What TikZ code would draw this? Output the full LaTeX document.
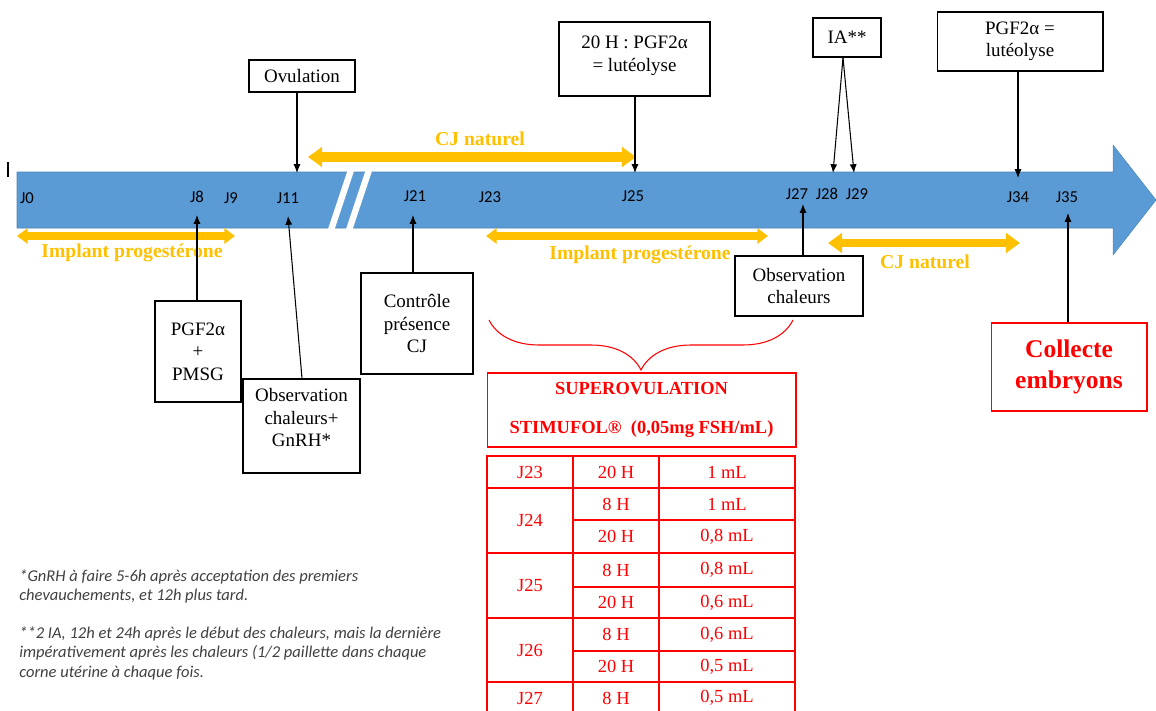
\documentclass[tikz,border=0pt]{standalone}
\usepackage{fontspec}
\setmainfont{Liberation Serif}
\newfontfamily\calib{Carlito}
\usepackage{xcolor}
\usepackage{tikz}
\usetikzlibrary{arrows.meta,positioning,calc,decorations.pathreplacing}
\definecolor{barblue}{HTML}{5B9BD5}
\definecolor{cjyellow}{HTML}{FFC000}
\definecolor{notegray}{HTML}{404040}

\begin{document}
\begin{tikzpicture}[
    x=0.02cm, y=-0.02cm,
    box/.style={rectangle, draw, line width=0.6pt, align=center, inner sep=1pt, font=\fontsize{10.8}{12.8}\selectfont},
    redbox/.style={box, draw=red, text=red},
    day/.style={font=\calib\fontsize{9.5}{11}\selectfont, inner sep=0pt},
    phase/.style={font=\fontsize{11.2}{12}\selectfont\bfseries, text=cjyellow, inner sep=0pt},
    cell/.style={font=\fontsize{10.5}{12}\selectfont, text=red, inner sep=0pt},
    note/.style={font=\calib\itshape\fontsize{9.4}{11.3}\selectfont, text=notegray, align=left, inner sep=0pt},
    tick/.style={-{Latex[length=5pt,width=4pt]}, line width=0.6pt},
    cjarrow/.style={{Triangle[length=8pt,width=11pt]}-{Triangle[length=8pt,width=11pt]}, line width=5.5pt, draw=cjyellow},
    imparrow/.style={{Triangle[length=6pt,width=8.5pt]}-{Triangle[length=6pt,width=8.5pt]}, line width=4pt, draw=cjyellow}
]
\useasboundingbox (0,0) rectangle (1156,710);

% Timeline
\filldraw[fill=barblue, draw=barblue!85!black, line width=0.3pt]
    (17,172) -- (1113,172) -- (1113,145) -- (1156,200) -- (1113,255) -- (1113,228) -- (17,228) -- cycle;
\draw[white, line width=3.6pt] (351,170) -- (331,230);
\draw[white, line width=3.6pt] (369,170) -- (349,230);
\draw[line width=0.6pt] (8,162) -- (8,177);

% Days
\node[day] (j0) at (27,198) {J0};
\node[day] (j8) at (197,197) {J8};
\node[day] (j9) at (231,198) {J9};
\node[day] (j11) at (288,198) {J11};
\node[day] (j21) at (415,196) {J21};
\node[day] (j23) at (490,197) {J23};
\node[day] (j25) at (633,196) {J25};
\node[day] (j27) at (797,194) {J27};
\node[day] (j28) at (827,194) {J28};
\node[day] (j29) at (857,194) {J29};
\node[day] (j34) at (1018,197) {J34};
\node[day] (j35) at (1067,197) {J35};

% Phases
\coordinate (cjA) at (308,157);
\coordinate (cjB) at (636,157);
\draw[cjarrow] (cjA) -- (cjB);
\node[phase] (cjtop) at (480,139) {CJ naturel};
\coordinate (impA) at (17,236);
\coordinate (impB) at (235,236);
\draw[imparrow] (impA) -- (impB);
\node[phase] (impleft) at (132,253) {Implant progestérone};
\coordinate (impC) at (486,236);
\coordinate (impD) at (768,236);
\draw[imparrow] (impC) -- (impD);
\node[phase] (impright) at (640,255) {Implant progestérone};
\coordinate (cjC) at (828,243);
\coordinate (cjD) at (1020,243);
\draw[cjarrow, line width=4.5pt] (cjC) -- (cjD);
\node[phase] (cjlow) at (925,262) {CJ naturel};

% Events above
\node[box, minimum width=2.12cm, minimum height=0.64cm] (ovu) at (302,76) {Ovulation};
\node[box, minimum width=3.02cm, minimum height=1.48cm, text depth=6pt] (pgfa) at (634.5,59) {20 H : PGF2α\\= lutéolyse};
\node[box, minimum width=1.36cm, minimum height=0.78cm] (ia) at (847,37.5) {IA**};
\node[box, minimum width=3.32cm, minimum height=1.18cm] (pgfb) at (1020,41.5) {PGF2α =\\lutéolyse};
\coordinate (t11) at (297,173);
\coordinate (t25) at (635,173);
\coordinate (t28) at (833,173);
\coordinate (t29) at (854,173);
\coordinate (t34) at (1018,178);
\draw[tick] (ovu.south -| t11) -- (t11);
\draw[tick] (pgfa.south -| t25) -- (t25);
\draw[tick] ($(ia.south)+(-4,0)$) -- (t28);
\draw[tick] ($(ia.south)+(-4,0)$) -- (t29);
\draw[tick] (pgfb.south -| t34) -- (t34);

% Events below
\node[box, minimum width=1.72cm, minimum height=2.02cm] (pmsg) at (198,351.5) {PGF2α\\+\\PMSG};
\node[box, minimum width=2.34cm, minimum height=1.88cm, text depth=9.5pt] (obsa) at (301.5,426) {Observation\\chaleurs+\\GnRH*};
\node[box, minimum width=2.24cm, minimum height=2.02cm] (ctrl) at (417,323.5) {Contrôle\\présence\\CJ};
\node[box, minimum width=2.56cm, minimum height=1.2cm] (obsb) at (799,286) {Observation\\chaleurs};
\node[redbox, minimum width=3.12cm, minimum height=1.76cm, font=\fontsize{14.5}{17.5}\selectfont\bfseries] (coll) at (1069,367) {Collecte\\embryons};
\coordinate (b8) at (197,215);
\coordinate (b11) at (288,216);
\coordinate (b21) at (413,215);
\coordinate (b27) at (803,204);
\coordinate (b35) at (1068,213);
\draw[tick] (pmsg.north -| b8) -- (b8);
\draw[tick] ($(obsa.north)+(0.5,0)$) -- (b11);
\draw[tick] (ctrl.north -| b21) -- (b21);
\draw[tick] (obsb.north -| b27) -- (b27);
\draw[tick] (coll.north -| b35) -- (b35);

% Superovulation
\coordinate (brR) at (793,320);
\coordinate (brL) at (489,320);
\draw[red, line width=0.6pt, decorate, decoration={brace, amplitude=1cm, aspect=0.5}] (brR) -- (brL);
\node[redbox, minimum width=6.18cm, minimum height=1.48cm, font=\fontsize{10.5}{13}\selectfont\bfseries] (sup) at (641.5,410) {SUPEROVULATION\\[9.5pt]STIMUFOL®\ \ (0,05mg FSH/mL)};

% Table
\draw[red, line width=1.2pt] (487,456) rectangle (795,716);
\draw[red, line width=1pt] (573,456) -- (573,716);
\draw[red, line width=1pt] (659,456) -- (659,716);
\draw[red, line width=1pt] (487,488) -- (795,488);
\draw[red, line width=1pt] (487,553) -- (795,553);
\draw[red, line width=1pt] (487,618) -- (795,618);
\draw[red, line width=1pt] (487,682) -- (795,682);
\draw[red, line width=1pt] (573,520) -- (795,520);
\draw[red, line width=1pt] (573,587) -- (795,587);
\draw[red, line width=1pt] (573,651) -- (795,651);
\node[cell] (d23) at (530,472) {J23};
\node[cell] (h1) at (616,472) {20 H};
\node[cell] (v1) at (727,472) {1 mL};
\node[cell] (d24) at (530,520.5) {J24};
\node[cell] (h2) at (616,504) {8 H};
\node[cell] (v2) at (727,504) {1 mL};
\node[cell] (h3) at (616,536.5) {20 H};
\node[cell] (v3) at (727,536.5) {0,8 mL};
\node[cell] (d25) at (530,585.5) {J25};
\node[cell] (h4) at (616,570) {8 H};
\node[cell] (v4) at (727,570) {0,8 mL};
\node[cell] (h5) at (616,602.5) {20 H};
\node[cell] (v5) at (727,602.5) {0,6 mL};
\node[cell] (d26) at (530,650) {J26};
\node[cell] (h6) at (616,634.5) {8 H};
\node[cell] (v6) at (727,634.5) {0,6 mL};
\node[cell] (h7) at (616,666.5) {20 H};
\node[cell] (v7) at (727,666.5) {0,5 mL};
\node[cell] (d27) at (530,698) {J27};
\node[cell] (h8) at (616,698) {8 H};
\node[cell] (v8) at (727,698) {0,5 mL};

% Notes
\node[note, anchor=north west] (noteA) at (19,569) {*GnRH à faire 5-6h après acceptation des premiers\\chevauchements, et 12h plus tard.};
\node[note, anchor=north west] (noteB) at (19,626) {**2 IA, 12h et 24h après le début des chaleurs, mais la dernière\\impérativement après les chaleurs (1/2 paillette dans chaque\\corne utérine à chaque fois.};

\end{tikzpicture}
\end{document}
